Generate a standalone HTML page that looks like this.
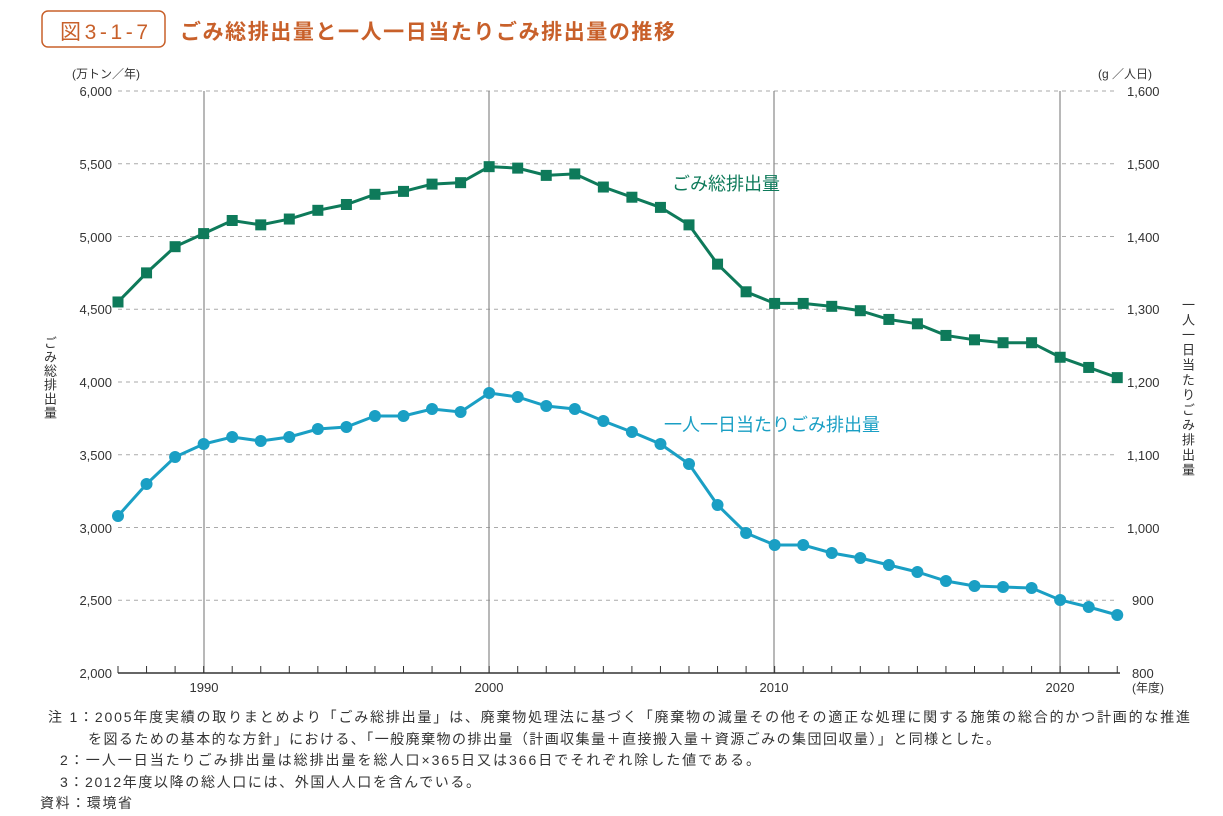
<!DOCTYPE html>
<html><head><meta charset="utf-8"><style>
body{margin:0;background:#fff;width:1223px;height:816px;overflow:hidden;font-family:"Liberation Sans","Noto Sans CJK JP",sans-serif;}
svg text{font-family:"Liberation Sans","Noto Sans CJK JP",sans-serif;}
.v{position:absolute;writing-mode:vertical-rl;text-orientation:upright;font-size:13px;color:#333;letter-spacing:1px;}
</style></head><body>
<svg id="s" width="1223" height="816" style="position:absolute;left:0;top:0">
<rect x="42" y="11" width="123" height="36" rx="6" fill="none" stroke="#c8602a" stroke-width="1.5"/>
<text x="60" y="39" font-size="21" fill="#c8602a" textLength="88">図3-1-7</text>
<text x="180" y="39" font-size="21" fill="#c8602a" font-weight="bold" textLength="495">ごみ総排出量と一人一日当たりごみ排出量の推移</text>
<text x="72" y="78" font-size="12" fill="#333">(万トン／年)</text>
<text x="1098" y="78" font-size="12" fill="#333">(g ／人日)</text>
<g id="grid"></g>
<g font-size="13" fill="#333" text-anchor="end">
<text x="112" y="96">6,000</text><text x="112" y="169">5,500</text><text x="112" y="242">5,000</text><text x="112" y="314">4,500</text><text x="112" y="387">4,000</text><text x="112" y="460">3,500</text><text x="112" y="533">3,000</text><text x="112" y="605">2,500</text><text x="112" y="678">2,000</text>
</g>
<g font-size="13" fill="#333">
<text x="1127" y="96">1,600</text><text x="1127" y="169">1,500</text><text x="1127" y="242">1,400</text><text x="1127" y="314">1,300</text><text x="1127" y="387">1,200</text><text x="1127" y="460">1,100</text><text x="1127" y="533">1,000</text><text x="1132" y="605">900</text><text x="1132" y="678">800</text>
<text x="1132" y="692" font-size="12">(年度)</text>
</g>
<g font-size="13" fill="#333" text-anchor="middle">
<text x="204" y="692">1990</text><text x="489" y="692">2000</text><text x="774" y="692">2010</text><text x="1060" y="692">2020</text>
</g>
<text x="672" y="190" font-size="18" fill="#0e7a5a">ごみ総排出量</text>
<text x="664" y="431" font-size="18" fill="#1a9fc4">一人一日当たりごみ排出量</text>
<g id="d"></g>
<g font-size="14" fill="#333">
<text x="48" y="722" textLength="1142" lengthAdjust="spacing">注 1：2005年度実績の取りまとめより「ごみ総排出量」は、廃棄物処理法に基づく「廃棄物の減量その他その適正な処理に関する施策の総合的かつ計画的な推進</text>
<text x="88" y="744" textLength="912" lengthAdjust="spacing">を図るための基本的な方針」における、「一般廃棄物の排出量（計画収集量＋直接搬入量＋資源ごみの集団回収量）」と同様とした。</text>
<text x="60" y="765" textLength="700" lengthAdjust="spacing">2：一人一日当たりごみ排出量は総排出量を総人口×365日又は366日でそれぞれ除した値である。</text>
<text x="60" y="787" textLength="420" lengthAdjust="spacing">3：2012年度以降の総人口には、外国人人口を含んでいる。</text>
<text x="40" y="808" textLength="92" lengthAdjust="spacing">資料：環境省</text>
</g>
</svg>
<div class="v" style="left:40px;top:336px;">ごみ総排出量</div>
<div class="v" style="left:1178px;top:298px;letter-spacing:2px;">一人一日当たりごみ排出量</div>
<script>
var ns="http://www.w3.org/2000/svg";
function el(t,a,p){var e=document.createElementNS(ns,t);for(var k in a)e.setAttribute(k,a[k]);p.appendChild(e);return e;}
var g=document.getElementById('grid'),d=document.getElementById('d');
for(var i=0;i<8;i++){var y=91+i*72.75;el('line',{x1:118,x2:1118,y1:y,y2:y,stroke:'#aaa','stroke-dasharray':'4,4','stroke-width':1},g);}
[204,489,774,1060].forEach(function(x){el('line',{x1:x,x2:x,y1:91,y2:673,stroke:'#888','stroke-width':1.2},g);});
el('line',{x1:118,x2:1120,y1:673,y2:673,stroke:'#333','stroke-width':1.5},g);
function X(yr){return 118+(yr-1987)*28.55;}
for(var yr=1987;yr<=2022;yr++)el('line',{x1:X(yr),x2:X(yr),y1:666,y2:673,stroke:'#333','stroke-width':1},g);
var G=[4550,4750,4930,5020,5110,5080,5120,5180,5220,5290,5310,5360,5370,5480,5470,5420,5430,5340,5270,5200,5080,4810,4620,4540,4540,4520,4490,4430,4400,4320,4290,4270,4270,4170,4100,4030];
var B=[516,484,457,444,437,441,437,429,427,416,416,409,412,393,397,406,409,421,432,444,464,505,533,545,545,553,558,565,572,581,586,587,588,600,607,615];
var gp=G.map(function(v,i){return [X(1987+i),673-(v-2000)*0.1455];});
var bp=B.map(function(v,i){return [X(1987+i),v];});
el('polyline',{points:gp.join(' '),fill:'none',stroke:'#0e7a5a','stroke-width':3},d);
gp.forEach(function(p){el('rect',{x:p[0]-5.5,y:p[1]-5.5,width:11,height:11,fill:'#0e7a5a'},d);});
el('polyline',{points:bp.join(' '),fill:'none',stroke:'#1a9fc4','stroke-width':3},d);
bp.forEach(function(p){el('circle',{cx:p[0],cy:p[1],r:6,fill:'#1a9fc4'},d);});
</script>
</body></html>
